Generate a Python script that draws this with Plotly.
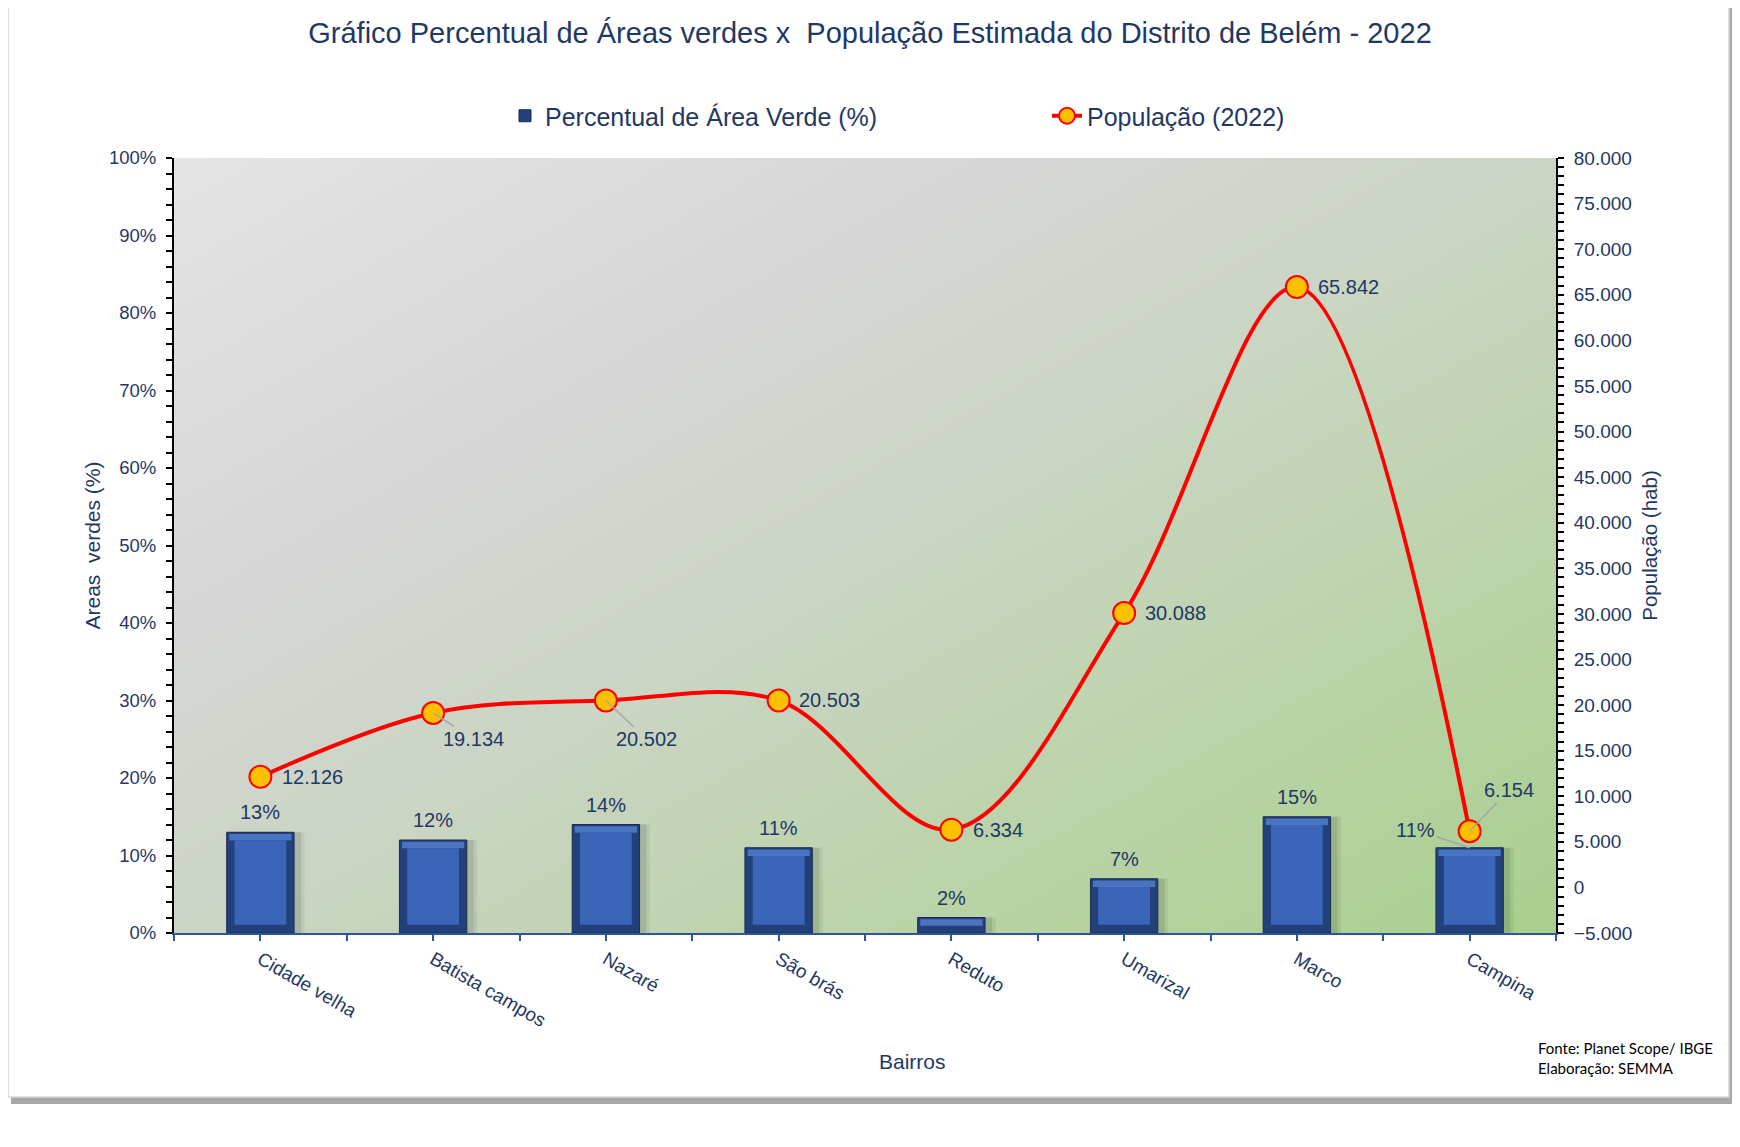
import numpy as np
import plotly.graph_objects as go

# dados
bairros = ['Cidade velha', 'Batista campos', 'Nazaré', 'São brás',
           'Reduto', 'Umarizal', 'Marco', 'Campina']
area_verde = [0.13, 0.12, 0.14, 0.11, 0.02, 0.07, 0.15, 0.11]
populacao = [12126, 19134, 20502, 20503, 6334, 30088, 65842, 6154]

# posicao dos rotulos (deslocamento em px)
pop_off = [(52, 0), (40, 26), (41, 39), (51, 0), (47, 0), (51, 0), (52, 0), (39, -41)]
pop_leader = [False, True, True, False, False, False, False, True]
pct_off = [(0, -20)] * 7 + [(-54, -18)]
pct_leader = [False] * 7 + [True]

# a pagina tem margem de 8px no body
W, H = 1724, 1131
L, R, T, B = 166, 1548, 150, 925
NAVY = '#1F3864'
FONT = 'Liberation Sans, Arial, sans-serif'


def px(x):
    return (x - L) / (R - L)


def py(y):
    return (B - y) / (B - T)


x = list(range(len(bairros)))

fig = go.Figure()

# fundo em degrade (cinza -> verde)
g = np.linspace(0, 1, 80)
gz = (g[None, :] + (1 - g)[:, None]) / 2
fig.add_trace(go.Heatmap(
    x=np.linspace(-0.5, 7.5, 80), y=g, z=gz, zsmooth='best', showscale=False,
    hoverinfo='skip',
    colorscale=[[0, '#E4E4E4'], [0.3, '#D6D6D6'], [0.5, '#CBD5C4'],
                [0.75, '#BAD3A8'], [1, '#A8D08D']]))

# sombra das barras
for w, op in [(0.43, 0.08), (0.41, 0.12)]:
    fig.add_trace(go.Bar(
        x=x, y=area_verde, width=w, offset=-0.175, showlegend=False, hoverinfo='skip',
        marker=dict(color=f'rgba(40,50,40,{op})', line=dict(width=0))))

# barras com efeito chanfrado
bevel = 0.0105
fig.add_trace(go.Bar(
    x=x, y=area_verde, width=0.39, name='Percentual de Área Verde (%)',
    marker=dict(color='#22407A', line=dict(color='#1A2C52', width=1))))
fig.add_trace(go.Bar(
    x=x, y=[bevel * 0.8] * len(x), base=[v - bevel for v in area_verde], width=0.36,
    marker=dict(color='#4A73C0', line=dict(width=0)), showlegend=False, hoverinfo='skip'))
fig.add_trace(go.Bar(
    x=x, y=[max(v - 2 * bevel, 0) for v in area_verde], base=bevel, width=0.30,
    marker=dict(color='#3A65B8', line=dict(width=0)), showlegend=False, hoverinfo='skip'))

fig.add_trace(go.Scatter(
    x=x, y=populacao, yaxis='y2', name='População (2022)',
    mode='lines+markers', line=dict(color='#FF0000', width=4, shape='spline', smoothing=1),
    marker=dict(size=22, color='#FFC000', line=dict(color='#FF0000', width=2))))

ann = []
for i, v in enumerate(populacao):
    txt = f'{v:,}'.replace(',', '.')
    dx, dy = pop_off[i]
    if pop_leader[i]:
        ann.append(dict(x=i, y=v, yref='y2', text=txt, showarrow=True, ax=dx, ay=dy,
                        arrowhead=0, arrowwidth=1.5, arrowcolor='#A6A6A6'))
    else:
        ann.append(dict(x=i, y=v, yref='y2', text=txt, showarrow=False, xshift=dx, yshift=-dy))
for i, v in enumerate(area_verde):
    txt = f'{round(v * 100)}%'
    dx, dy = pct_off[i]
    if pct_leader[i]:
        ann.append(dict(x=i, y=v, yref='y', text=txt, showarrow=True, ax=dx, ay=dy,
                        arrowhead=0, arrowwidth=1.5, arrowcolor='#A6A6A6'))
    else:
        ann.append(dict(x=i, y=v, yref='y', text=txt, showarrow=False, xshift=dx, yshift=-dy))
for a in ann:
    a['font'] = dict(family=FONT, size=20, color=NAVY)

ann.append(dict(x=px(905), y=py(1053), xref='paper', yref='paper', text='Bairros',
                yanchor='middle', showarrow=False, font=dict(family=FONT, size=21, color=NAVY)))
ann.append(dict(x=px(1528), y=py(1050), xref='paper', yref='paper', xanchor='left',
                yanchor='middle', align='left', showarrow=False,
                text='Fonte: Planet Scope/ IBGE<br>Elaboração: SEMMA',
                font=dict(family='Lato, Noto Sans, sans-serif', size=15, color='#000000')))

shapes = [
    dict(type='rect', xref='paper', yref='paper', layer='below',
         x0=px(3), x1=px(1724), y0=py(-2), y1=py(1096),
         fillcolor='#A8A8A8', line=dict(width=0)),
    dict(type='rect', xref='paper', yref='paper', layer='below',
         x0=px(0), x1=px(1721), y0=py(-2), y1=py(1089),
         fillcolor='#FFFFFF', line=dict(color='#D6D6D6', width=1.5)),
]

fig.update_layout(
    width=W, height=H,
    margin=dict(l=L, r=W - R, t=T, b=H - B),
    paper_bgcolor='white', plot_bgcolor='rgba(0,0,0,0)',
    separators=',.',
    barmode='overlay',
    font=dict(family=FONT, size=18, color=NAVY),
    title=dict(text='Gráfico Percentual de Áreas verdes x\u00a0 População Estimada do Distrito de Belém - 2022',
               x=0.5, xanchor='center', y=1 - 25 / H, yanchor='middle', yref='container',
               font=dict(family=FONT, size=29, color=NAVY)),
    legend=dict(orientation='h', x=px(497), xanchor='left', y=py(108), yanchor='middle',
                font=dict(family=FONT, size=25, color=NAVY), entrywidth=497,
                bgcolor='rgba(0,0,0,0)'),
    xaxis=dict(range=[-0.5, 7.5], tickmode='array', tickvals=x, ticktext=bairros,
               tickangle=30, ticks='outside', ticklen=6, tickcolor='#2F5597', tickwidth=2,
               showline=True, linecolor='#2F5597', linewidth=2, showgrid=False, zeroline=False,
               minor=dict(tickmode='linear', tick0=-0.5, dtick=1, ticks='outside', ticklen=6,
                          tickcolor='#2F5597', tickwidth=2),
               tickfont=dict(size=19, color=NAVY)),
    yaxis=dict(range=[0, 1], dtick=0.1, tickformat='.0%', ticks='outside', ticklen=6,
               tickcolor='black', tickwidth=2, showline=True, linecolor='black', linewidth=2,
               showgrid=False, zeroline=False, ticklabelstandoff=6,
               tickfont=dict(size=18.5, color=NAVY),
               minor=dict(dtick=0.02, ticks='outside', ticklen=6, tickcolor='black', tickwidth=2),
               title=dict(text='Areas\u00a0 verdes (%)', standoff=3, font=dict(size=21, color=NAVY))),
    yaxis2=dict(range=[-5000, 80000], dtick=5000, tick0=0, tickformat=',d', overlaying='y',
                side='right', ticks='outside', ticklen=6, tickcolor='black', tickwidth=2,
                showline=True, linecolor='black', linewidth=2, showgrid=False, zeroline=False,
                ticklabelstandoff=6, tickfont=dict(size=19, color=NAVY),
                minor=dict(dtick=1000, ticks='outside', ticklen=6, tickcolor='black', tickwidth=2),
                title=dict(text='População (hab)', standoff=11, font=dict(size=20.5, color=NAVY))),
    annotations=ann,
    shapes=shapes,
)

fig.write_html('out.html')
